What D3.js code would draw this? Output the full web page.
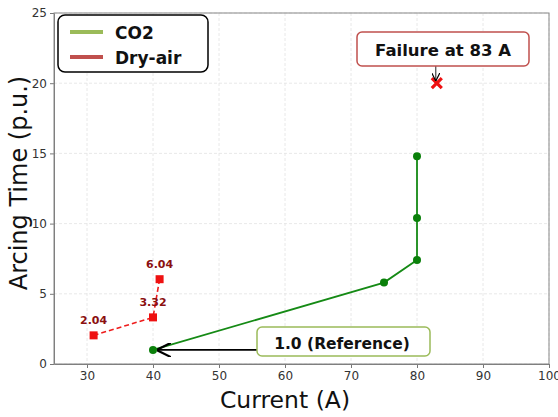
<!DOCTYPE html>
<html><head><meta charset="utf-8">
<script src="https://cdn.jsdelivr.net/npm/d3@7"></script>
<style>body{margin:0;background:#fff}</style>
</head><body>
<svg id="c" width="558" height="417"></svg>
<script>
const co2X = [40, 75, 80, 80, 80];
const co2Y = [1.0, 5.8, 7.4, 10.4, 14.8];
const airX = [31, 40, 41];
const airY = [2.04, 3.32, 6.04];
const airLabels = ["2.04", "3.32", "6.04"];
const failure = [83, 20];
const xTicks = [30, 40, 50, 60, 70, 80, 90, 100];
const yTicks = [0, 5, 10, 15, 20, 25];

const svg = d3.select("#c");
const L = 54, R = 549, T = 13, B = 364;
const x = d3.scaleLinear().domain([25, 100]).range([L, R]);
const y = d3.scaleLinear().domain([0, 25]).range([B, T]);
const lab = "'DejaVu Sans', sans-serif";

const defs = svg.append("defs");
defs.append("marker").attr("id","ah").attr("viewBox","0 0 10 10").attr("refX",9).attr("refY",5)
  .attr("markerWidth",8).attr("markerHeight",8).attr("orient","auto-start-reverse")
  .append("path").attr("d","M0,0 L10,5 L0,10").attr("fill","none").attr("stroke","#000").attr("stroke-width",1.5);
defs.append("filter").attr("id","sh").append("feGaussianBlur").attr("stdDeviation",1.2);

// grid
const g = svg.append("g");
g.selectAll(".gx").data(xTicks).join("line").attr("x1",d=>x(d)).attr("x2",d=>x(d)).attr("y1",T).attr("y2",B)
  .attr("stroke","#e2e2e2").attr("stroke-dasharray","3,2").attr("stroke-width",0.8);
g.selectAll(".gy").data(yTicks).join("line").attr("y1",d=>y(d)).attr("y2",d=>y(d)).attr("x1",L).attr("x2",R)
  .attr("stroke","#e2e2e2").attr("stroke-dasharray","3,2").attr("stroke-width",0.8);

// axes
const xa = svg.append("g").attr("transform",`translate(0,${B})`).call(d3.axisBottom(x).tickValues(xTicks).tickSize(4).tickSizeOuter(0));
const ya = svg.append("g").attr("transform",`translate(${L},0)`).call(d3.axisLeft(y).tickValues(yTicks).tickSize(4).tickSizeOuter(0));
[xa, ya].forEach(a => {
  a.selectAll("path,line").attr("stroke","#777");
  a.selectAll("text").attr("font-family","'DejaVu Sans', sans-serif").attr("font-size",12).attr("fill","#333");
});
svg.append("rect").attr("x",L).attr("y",T).attr("width",R-L).attr("height",B-T).attr("fill","none").attr("stroke","#888").attr("stroke-width",1);

svg.append("text").attr("x",285).attr("y",408).attr("text-anchor","middle").attr("font-family",lab).attr("font-size",23.5).attr("fill","#111").text("Current (A)");
svg.append("text").attr("transform",`translate(27,183) rotate(-90)`).attr("text-anchor","middle").attr("font-family",lab).attr("font-size",24).attr("fill","#111").text("Arcing Time (p.u.)");

// CO2
const co2 = co2X.map((d,i)=>[d,co2Y[i]]);
svg.append("path").datum(co2).attr("d",d3.line().x(d=>x(d[0])).y(d=>y(d[1]))).attr("fill","none").attr("stroke","#158a15").attr("stroke-width",1.8);
svg.selectAll(".cp").data(co2).join("circle").attr("cx",d=>x(d[0])).attr("cy",d=>y(d[1])).attr("r",4).attr("fill","#0a800a");

// Dry air
const air = airX.map((d,i)=>[d,airY[i]]);
svg.append("path").datum(air).attr("d",d3.line().x(d=>x(d[0])).y(d=>y(d[1]))).attr("fill","none").attr("stroke","#ee1c1c").attr("stroke-width",1.6).attr("stroke-dasharray","5,3");
svg.selectAll(".ap").data(air).join("rect").attr("x",d=>x(d[0])-4).attr("y",d=>y(d[1])-4).attr("width",8).attr("height",8).attr("fill","#ee1111");
svg.selectAll(".al").data(air).join("text").attr("x",d=>x(d[0])).attr("y",d=>y(d[1])-11).attr("text-anchor","middle")
  .attr("font-family","'DejaVu Sans', sans-serif").attr("font-weight","bold").attr("font-size",11).attr("fill","#8b1010").text((d,i)=>airLabels[i]);

// failure marker
const fx = x(failure[0]), fy = y(failure[1]);
svg.append("path").attr("d",`M${fx-5},${fy-5}L${fx+5},${fy+5}M${fx+5},${fy-5}L${fx-5},${fy+5}`).attr("stroke","#ee1111").attr("stroke-width",3.2);

// failure annotation
svg.append("line").attr("x1",fx-1).attr("y1",66).attr("x2",fx-1).attr("y2",fy-3).attr("stroke","#222").attr("stroke-width",1).attr("marker-end","url(#ah)");
svg.append("rect").attr("x",357).attr("y",32).attr("width",172).attr("height",34).attr("rx",5).attr("fill","#fff").attr("stroke","#c0504d").attr("stroke-width",1.5);
svg.append("text").attr("x",443).attr("y",56).attr("text-anchor","middle").attr("font-family",lab).attr("font-weight","bold").attr("font-size",16.5).attr("fill","#111").text("Failure at 83 A");

// reference annotation
const rx = x(co2X[0]), ry = y(co2Y[0]);
svg.append("line").attr("x1",258).attr("y1",ry+2).attr("x2",rx+6).attr("y2",ry+2).attr("stroke","#999").attr("stroke-width",2.5).attr("filter","url(#sh)");
svg.append("line").attr("x1",258).attr("y1",ry).attr("x2",rx+5).attr("y2",ry).attr("stroke","#000").attr("stroke-width",1.8).attr("marker-end","url(#ah)");
svg.append("rect").attr("x",257).attr("y",327).attr("width",173).attr("height",29).attr("rx",5).attr("fill","#fff").attr("stroke","#9bbb59").attr("stroke-width",1.5);
svg.append("text").attr("x",342).attr("y",349).attr("text-anchor","middle").attr("font-family",lab).attr("font-weight","bold").attr("font-size",15.5).attr("fill","#111").text("1.0 (Reference)");

// legend
const lg = svg.append("g");
lg.append("rect").attr("x",58).attr("y",15).attr("width",150).attr("height",57).attr("rx",7).attr("fill","#fff").attr("stroke","#000").attr("stroke-width",1.5);
const legItems = [["CO2","#9bbb59"],["Dry-air","#c0504d"]];
legItems.forEach((d,i)=>{
  const yy = 32 + i*25;
  lg.append("line").attr("x1",70).attr("x2",103).attr("y1",yy).attr("y2",yy).attr("stroke",d[1]).attr("stroke-width",4);
  lg.append("text").attr("x",115).attr("y",yy+7).attr("font-family",lab).attr("font-weight","bold").attr("font-size",17).attr("fill","#111").text(d[0]);
});
</script>
</body></html>
